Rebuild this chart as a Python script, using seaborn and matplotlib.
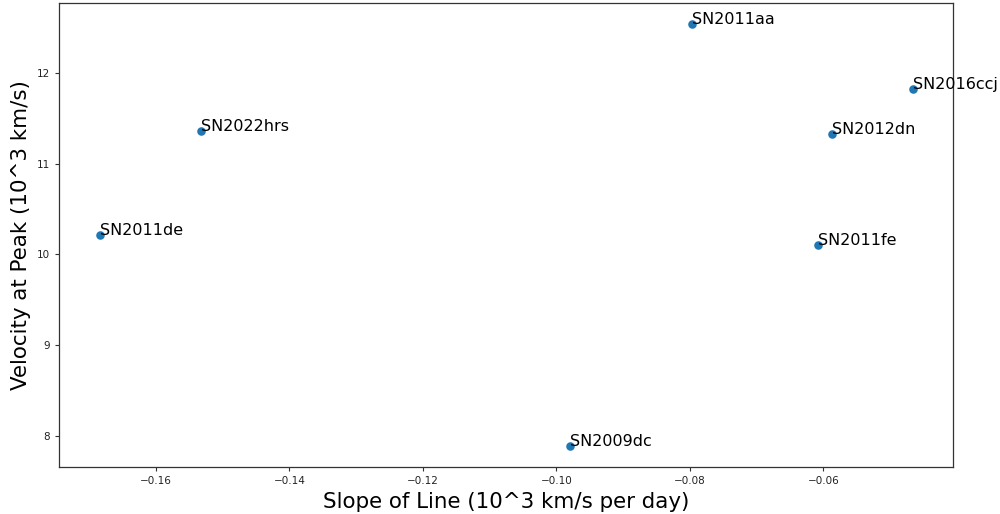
import matplotlib
matplotlib.use("Agg")
import matplotlib.pyplot as plt
import seaborn as sns
import pandas as pd

# Supernova measurements: decline slope vs. Si II velocity at peak
names = ["SN2011aa", "SN2016ccj", "SN2012dn", "SN2022hrs",
         "SN2011de", "SN2011fe", "SN2009dc"]
slopes = [-0.0796, -0.0466, -0.0587, -0.1532, -0.1684, -0.0608, -0.0980]
velocities = [12.545, 11.824, 11.327, 11.360, 10.217, 10.110, 7.882]

df = pd.DataFrame({"slope": slopes, "velocity": velocities, "name": names})

sns.set_style("ticks")
plt.rcParams["font.family"] = ["DejaVu Sans"]

fig = plt.figure(figsize=(10, 5.14), dpi=100)
ax = fig.add_axes([0.0593, 1 - 467.3 / 514, 0.894, 464.3 / 514])

sns.scatterplot(data=df, x="slope", y="velocity", ax=ax,
                color="#1f77b4", s=38, linewidth=0)

for n, x, y in zip(names, slopes, velocities):
    ax.annotate(n, (x, y), fontsize=11.5, color="black")

ax.set_xlabel("Slope of Line (10^3 km/s per day)", fontsize=15.4, color="black")
ax.set_ylabel("Velocity at Peak (10^3 km/s)", fontsize=15.4, color="black")
ax.tick_params(labelsize=7.5, length=3, width=0.8, colors="#333333",
               labelcolor="#222222")
for sp in ax.spines.values():
    sp.set_color("#333333")
    sp.set_linewidth(0.9)

fig.savefig("out.png", dpi=100)
